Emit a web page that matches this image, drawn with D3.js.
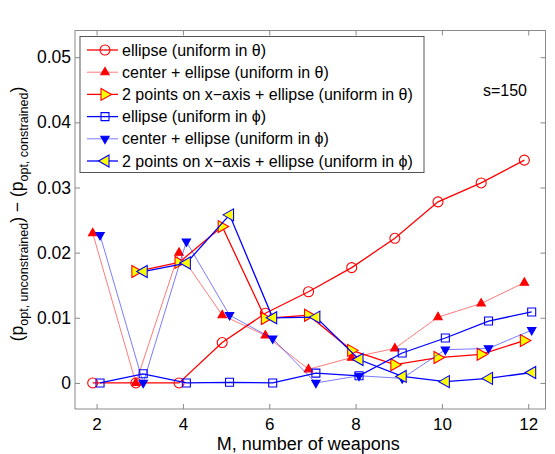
<!DOCTYPE html>
<html>
<head>
<meta charset="utf-8">
<script src="https://cdn.jsdelivr.net/npm/d3@7"></script>
<style>
  body { margin: 0; background: #fff; }
  text { font-family: "Liberation Sans", Arial, Helvetica, sans-serif; }
</style>
</head>
<body>
<div id="chart"></div>
<script>
// ---- data ----
const M_ALL = [2, 3, 4, 5, 6, 7, 8, 9, 10, 11, 12];
const M_TWO = [3, 4, 5, 6, 7, 8, 9, 10, 11, 12];

const ellipseTheta = [0, 0, 0, 0.0062, 0.0107, 0.0140, 0.0177, 0.0222, 0.0278, 0.0307, 0.0342];
const centerTheta = [0.0230, 0, 0.0200, 0.0104, 0.0073, 0.0021, 0.0039, 0.0053, 0.0101, 0.0122, 0.0154];
const twoPtsTheta = [0.0171, 0.0185, 0.0240, 0.0099, 0.0104, 0.0050, 0.0028, 0.0039, 0.0044, 0.0065];
const ellipsePhi = [0, 0.0014, 0, 0.0001, 0, 0.0015, 0.0011, 0.0046, 0.0069, 0.0095, 0.0109];
const centerPhi = [0.0227, 0, 0.0217, 0.0104, 0.0068, 0, 0.0011, 0.0007, 0.0051, 0.0053, 0.0081];
const twoPtsPhi = [0.0171, 0.0184, 0.0258, 0.0100, 0.0101, 0.0036, 0.0010, 0.0002, 0.0007, 0.0016];

const xTicks = [2, 4, 6, 8, 10, 12];
const yTicks = [0, 0.01, 0.02, 0.03, 0.04, 0.05];

const seriesList = [
    { label: "ellipse (uniform in \u03b8)", xs: M_ALL, ys: ellipseTheta, color: "#ff0000", marker: "circle", fill: "none", lw: 1.3, shift: -0.09 },
    { label: "center + ellipse (uniform in \u03b8)", xs: M_ALL, ys: centerTheta, color: "#ff0000", marker: "triUp", fill: "#ff0000", lw: 0.7, shift: -0.09 },
    { label: "2 points on x\u2212axis + ellipse (uniform in \u03b8)", xs: M_TWO, ys: twoPtsTheta, color: "#ff0000", marker: "triRight", fill: "#ffff00", lw: 1.3, shift: -0.09 },
    { label: "ellipse (uniform in \u03d5)", xs: M_ALL, ys: ellipsePhi, color: "#0000ff", marker: "square", fill: "none", lw: 1.3, shift: 0.08 },
    { label: "center + ellipse (uniform in \u03d5)", xs: M_ALL, ys: centerPhi, color: "#0000ff", marker: "triDown", fill: "#0000ff", lw: 0.7, shift: 0.08 },
    { label: "2 points on x\u2212axis + ellipse (uniform in \u03d5)", xs: M_TWO, ys: twoPtsPhi, color: "#0000ff", marker: "triLeft", fill: "#ffff00", lw: 1.3, shift: 0.08 }
];

// =================================================================================

const WIDTH = 555, HEIGHT = 454;
const LEFT = 75, RIGHT = 545.5, TOP = 30.5, BOTTOM = 409;
const AXIS_GREY = "#8a8a8a";

let x = d3.scaleLinear().domain([1.5, 12.4]).range([LEFT, RIGHT]);
let y = d3.scaleLinear().domain([-0.004, 0.0541]).range([BOTTOM, TOP]);

let svg = d3.select("#chart").append("svg")
    .attr("width", WIDTH)
    .attr("height", HEIGHT)
    .style("display", "block");

// axes (ticks point inward, MATLAB style)
let fmtY = d => d === 0 ? "0" : d3.format(".2f")(d);

function styleAxis(sel, fontSize) {
    sel.select(".domain").remove();
    sel.selectAll(".tick line").attr("stroke", AXIS_GREY);
    sel.selectAll(".tick text").attr("fill", "#000").style("font-size", fontSize + "px")
        .style("font-family", "'Liberation Sans', Arial, sans-serif");
}

svg.append("g").attr("transform", `translate(0,${BOTTOM})`)
    .call(d3.axisBottom(x).tickValues(xTicks).tickSize(-5).tickPadding(9))
    .call(g => styleAxis(g, 17));
svg.append("g").attr("transform", `translate(0,${TOP})`)
    .call(d3.axisTop(x).tickValues(xTicks).tickSize(-5).tickFormat(""))
    .call(g => styleAxis(g, 17));
svg.append("g").attr("transform", `translate(${LEFT},0)`)
    .call(d3.axisLeft(y).tickValues(yTicks).tickSize(-5).tickPadding(4).tickFormat(fmtY))
    .call(g => styleAxis(g, 17.5));
svg.append("g").attr("transform", `translate(${RIGHT},0)`)
    .call(d3.axisRight(y).tickValues(yTicks).tickSize(-5).tickFormat(""))
    .call(g => styleAxis(g, 17));

svg.append("rect")
    .attr("x", LEFT).attr("y", TOP)
    .attr("width", RIGHT - LEFT).attr("height", BOTTOM - TOP)
    .attr("fill", "none").attr("stroke", AXIS_GREY).attr("stroke-width", 1);

// axis titles
svg.append("text")
    .attr("x", (LEFT + RIGHT) / 2 - 2).attr("y", 450)
    .attr("text-anchor", "middle")
    .style("font-size", "18px")
    .text("M, number of weapons");

let yTitle = svg.append("text")
    .attr("transform", "translate(23,214) rotate(-90)")
    .attr("text-anchor", "middle")
    .style("font-size", "17.5px");
yTitle.append("tspan").text("(p");
yTitle.append("tspan").attr("dy", 5).style("font-size", "12.5px").text("opt, unconstrained");
yTitle.append("tspan").attr("dy", -5).text(") \u2212 (p");
yTitle.append("tspan").attr("dy", 5).style("font-size", "12.5px").text("opt, constrained");
yTitle.append("tspan").attr("dy", -5).text(")");

// markers
function markerPath(type) {
    switch (type) {
        case "circle": return d3.path().arc ? circlePath(5) : "";
        case "square": return "M-4,-4H4V4H-4Z";
        case "triUp": return "M0,-4.8L4.2,2.6L-4.2,2.6Z";
        case "triDown": return "M0,4.8L4.2,-2.6L-4.2,-2.6Z";
        case "triRight": return "M6.5,0L-4,-6L-4,6Z";
        case "triLeft": return "M-6.5,0L4,-6L4,6Z";
    }
}
function circlePath(r) {
    let p = d3.path();
    p.arc(0, 0, r, 0, 2 * Math.PI);
    p.closePath();
    return p.toString();
}

let line = d3.line().x(d => x(d[0])).y(d => y(d[1]));

let plot = svg.append("g");

seriesList.forEach(s => {
    let pts = s.xs.map((m, i) => [m + s.shift, s.ys[i]]);
    let g = plot.append("g");
    g.append("path")
        .datum(pts)
        .attr("d", line)
        .attr("fill", "none")
        .attr("stroke", s.color)
        .attr("stroke-width", s.lw)
        .attr("stroke-opacity", s.lw < 1 ? 0.75 : 1);
    g.selectAll(".pt")
        .data(pts)
        .enter()
        .append("path")
        .attr("class", "pt")
        .attr("d", markerPath(s.marker))
        .attr("transform", d => `translate(${x(d[0])},${y(d[1])})`)
        .attr("fill", s.fill)
        .attr("stroke", s.color)
        .attr("stroke-width", 1.1);
});

// legend
const LEG_X = 80, LEG_Y = 36.5, LEG_W = 344, LEG_H = 136, ROW = 22.2;
let legend = svg.append("g");
legend.append("rect")
    .attr("x", LEG_X).attr("y", LEG_Y)
    .attr("width", LEG_W).attr("height", LEG_H)
    .attr("fill", "#fff").attr("stroke", "#555").attr("stroke-width", 1);

seriesList.forEach((s, i) => {
    let cy = 50 + i * ROW;
    legend.append("line")
        .attr("x1", 87).attr("x2", 118)
        .attr("y1", cy).attr("y2", cy)
        .attr("stroke", s.color)
        .attr("stroke-width", s.lw)
        .attr("stroke-opacity", s.lw < 1 ? 0.75 : 1);
    legend.append("path")
        .attr("d", markerPath(s.marker))
        .attr("transform", `translate(105,${cy})`)
        .attr("fill", s.fill)
        .attr("stroke", s.color)
        .attr("stroke-width", 1.1);
    legend.append("text")
        .attr("x", 122).attr("y", cy + 5.5)
        .style("font-size", "16px")
        .text(s.label);
});

svg.append("text")
    .attr("x", 527).attr("y", 96)
    .attr("text-anchor", "end")
    .style("font-size", "16px")
    .text("s=150");
</script>
</body>
</html>
